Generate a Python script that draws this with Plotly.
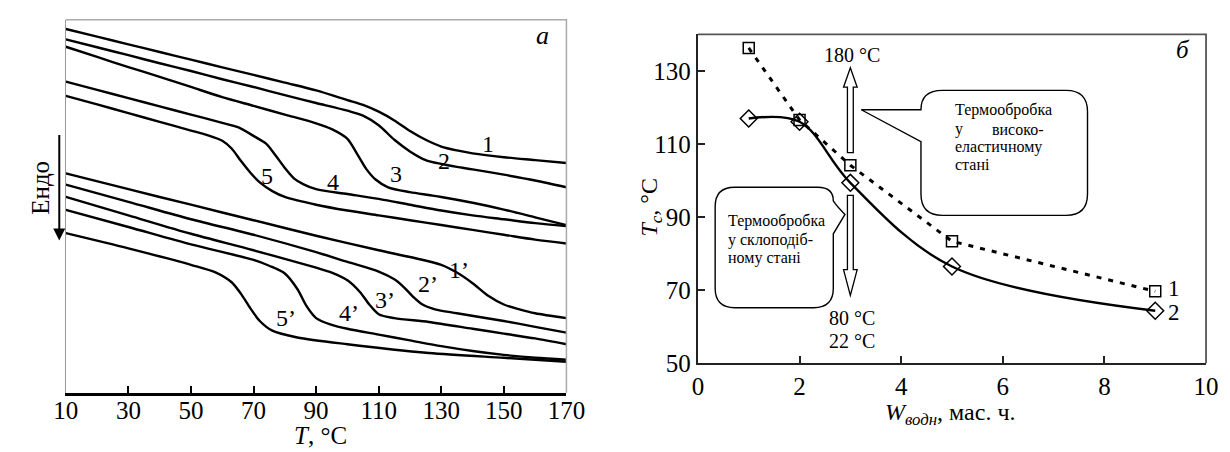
import plotly.graph_objects as go

W, H = 1230, 452
FONT = "Liberation Serif, Times New Roman, serif"

# ---------------- Panel а : DSC curves (T, °C ; signal, arb. units, endo down) -------------
T_1 = [10, 20, 30, 40, 50, 60, 70, 80, 90, 100, 105, 110, 115, 120, 125, 130, 135, 140, 150, 160, 170]
S_1 = [21.7, 29.6, 37.5, 45.4, 53.3, 61.2, 69.1, 77, 85, 95, 100, 107, 116, 127, 136, 143, 147, 150, 154, 157, 160]

T_2 = [10, 20, 30, 40, 50, 60, 70, 80, 90, 100, 105, 110, 115, 120, 125, 130, 135, 140, 150, 160, 170]
S_2 = [32.3, 40.5, 48.7, 57, 65, 73.5, 81.5, 90, 98, 106, 111, 121, 136, 148, 157, 161, 164, 166.5, 172, 178, 185]

T_3 = [10, 20, 30, 40, 50, 60, 70, 80, 90, 95, 100, 103, 106, 109, 113, 120, 126, 130, 140, 150, 160, 170]
S_3 = [40, 50.5, 61, 71, 81.5, 92, 101, 110, 119, 125, 135, 150, 166, 177, 185, 190, 193, 195, 201, 208, 216, 224]

T_4 = [10, 20, 30, 40, 50, 60, 65, 70, 74, 77, 80, 83, 86, 90, 100, 110, 120, 130, 140, 150, 160, 170]
S_4 = [76, 84.5, 93, 101.5, 110, 118.5, 123, 132, 140, 152, 165, 176, 182, 187, 192, 197, 203, 209, 214, 218, 222, 225]

T_5 = [10, 20, 30, 40, 50, 55, 60, 63, 66, 69, 72, 76, 80, 90, 100, 110, 120, 130, 140, 150, 160, 170]
S_5 = [90.7, 99.5, 108.5, 117.5, 126.5, 131, 137, 145, 158, 170, 180, 189, 195, 203, 209, 214, 219, 224, 229, 234, 239, 243]

T_1p = [10, 30, 50, 70, 90, 110, 120, 130, 135, 140, 145, 150, 155, 160, 170]
S_1p = [170.7, 187, 203, 219, 235, 250, 257, 265, 273, 284, 297, 306, 311, 315, 320]

T_2p = [10, 30, 50, 70, 90, 100, 110, 115, 118, 121, 124, 128, 135, 150, 160, 170]
S_2p = [182.3, 200, 218, 234, 252, 262, 272, 280, 288, 298, 306, 311, 315, 323, 329, 335]

T_3p = [10, 30, 50, 70, 90, 95, 100, 104, 107, 110, 115, 126, 140, 150, 160, 170]
S_3p = [195, 214, 233, 250, 268, 273, 281, 293, 306, 316, 320, 324, 331, 336, 341, 347]

T_4p = [10, 30, 50, 70, 75, 80, 84, 87, 90, 95, 100, 110, 120, 130, 140, 150, 160, 170]
S_4p = [208.3, 226, 244, 260, 266, 274, 290, 308, 320, 327, 331, 337, 343, 349, 354, 358, 361, 363]

T_5p = [10, 30, 50, 58, 63, 66, 69, 72, 76, 84, 100, 126, 150, 170]
S_5p = [232.3, 248, 265, 273, 283, 295, 310, 323, 333, 340, 347, 356, 361, 365]

curves_a = [(T_1, S_1), (T_2, S_2), (T_3, S_3), (T_4, S_4), (T_5, S_5),
            (T_1p, S_1p), (T_2p, S_2p), (T_3p, S_3p), (T_4p, S_4p), (T_5p, S_5p)]

labels_a = ["1", "2", "3", "4", "5", "1’", "2’", "3’", "4’", "5’"]
labels_a_T = [145.0, 131.0, 115.5, 95.3, 74.2, 135.7, 125.9, 111.9, 100.5, 80.3]
labels_a_S = [140, 158, 171.7, 180, 173.3, 270, 285, 301.7, 315, 320]

T_ticks = [10, 30, 50, 70, 90, 110, 130, 150, 170]

# ---------------- Panel б : Tg vs water content ----------------
W_water = [1, 2, 3, 5, 9]
Tg_elastic = [136.3, 116.6, 104.2, 83.4, 69.7]   # curve 1
Tg_glassy = [117.0, 116.1, 99.4, 76.5, 64.4]     # curve 2
W_ticks = [0, 2, 4, 6, 8, 10]
Tg_ticks = [50, 70, 90, 110, 130]


def px(x):
    return x / W


def py(y):
    return 1 - y / H


def P(x, y):
    return f"{px(x):.5f},{py(y):.5f}"


fig = go.Figure()

for T, S in curves_a:
    fig.add_trace(go.Scatter(x=T, y=S, mode="lines", xaxis="x", yaxis="y",
                             line=dict(color="black", width=2.4, shape="spline", smoothing=0.8),
                             showlegend=False, hoverinfo="skip"))

fig.add_trace(go.Scatter(x=W_water, y=Tg_glassy, mode="lines+markers", xaxis="x2", yaxis="y2",
                         line=dict(color="black", width=2.4, shape="spline", smoothing=1.0),
                         marker=dict(symbol="diamond-open", size=13, color="black", line=dict(width=1.5)),
                         showlegend=False))
fig.add_trace(go.Scatter(x=W_water, y=Tg_elastic, mode="lines+markers", xaxis="x2", yaxis="y2",
                         line=dict(color="black", width=3, dash="5px,7px"),
                         marker=dict(symbol="square-open", size=11, color="black", line=dict(width=1.5)),
                         showlegend=False))

# domains in pixels
A_L, A_R, A_T, A_B = 46, 560, 12, 397
B_L, B_R, B_T, B_B = 695, 1216.7, 27.3, 366.7

axfont = dict(family=FONT, size=25, color="black")

fig.update_layout(
    width=W, height=H, margin=dict(l=0, r=0, t=0, b=0),
    paper_bgcolor="white", plot_bgcolor="white",
    xaxis=dict(domain=[px(A_L), px(A_R)], anchor="y", range=[10, 170], tickvals=T_ticks,
               ticks="inside", ticklen=7, tickwidth=2, tickcolor="black",
               showline=True, linecolor="black", linewidth=2.5, showgrid=False, zeroline=False,
               tickfont=axfont, ticklabelstandoff=-6),
    yaxis=dict(domain=[py(A_B), py(A_T)], anchor="x", range=[397, 12],
               showline=True, linecolor="#999", linewidth=1.2, showticklabels=False, ticks="",
               showgrid=False, zeroline=False),
    xaxis2=dict(domain=[px(B_L), px(B_R)], anchor="y2", range=[0, 10], tickvals=W_ticks,
                ticks="inside", ticklen=7, tickwidth=2, tickcolor="#222",
                showline=True, linecolor="#222", linewidth=2.2, showgrid=False, zeroline=False,
                tickfont=axfont),
    yaxis2=dict(domain=[py(B_B), py(B_T)], anchor="x2", range=[50, 140], tickvals=Tg_ticks,
                ticks="inside", ticklen=7, tickwidth=2, tickcolor="#222",
                showline=True, linecolor="#222", linewidth=2.2, showgrid=False, zeroline=False,
                tickfont=axfont),
)

shapes = []
# frames
shapes.append(dict(type="path", xref="paper", yref="paper",
                   path=f"M{P(A_L, A_T)} L{P(A_R, A_T)} L{P(A_R, A_B)}",
                   line=dict(color="#aaa", width=1.5)))
shapes.append(dict(type="path", xref="paper", yref="paper",
                   path=f"M{P(B_L, B_T)} L{P(B_R, B_T)} L{P(B_R, B_B)}",
                   line=dict(color="#555", width=1.8)))

# hollow arrows at W = 3
cx = 851.5
sw, hw = 3, 7
up = (f"M{P(cx - sw, 149.3)} L{P(cx - sw, 81.7)} L{P(cx - hw, 81.7)} L{P(cx, 61.7)} "
      f"L{P(cx + hw, 81.7)} L{P(cx + sw, 81.7)} L{P(cx + sw, 149.3)} Z")
down = (f"M{P(cx - sw, 193.3)} L{P(cx - sw, 270)} L{P(cx - hw, 270)} L{P(cx, 296.7)} "
        f"L{P(cx + hw, 270)} L{P(cx + sw, 270)} L{P(cx + sw, 193.3)} Z")
for pth in (up, down):
    shapes.append(dict(type="path", xref="paper", yref="paper", path=pth,
                       line=dict(color="black", width=1.3), fillcolor="white"))

# callout (right)
r = 22
L, R, T, B = 924, 1095, 85, 214
right_box = (f"M{P(862.7, 105)} L{P(L, 105)} Q{P(L, T)} {P(L + r, T)} L{P(R - r, T)} "
             f"Q{P(R, T)} {P(R, T + r)} L{P(R, B - r)} Q{P(R, B)} {P(R - r, B)} "
             f"L{P(L + r, B)} Q{P(L, B)} {P(L, B - r)} L{P(L, 138)} Z")
shapes.append(dict(type="path", xref="paper", yref="paper", path=right_box,
                   line=dict(color="black", width=1.4), fillcolor="white"))
# callout (left)
L, R, T, B = 712.7, 834, 185, 309.3
r = 20
left_box = (f"M{P(L + r, T)} L{P(R - 16, T)} Q{P(R, T)} {P(R, T + 14)} "
            f"Q{P(R + 4, 205)} {P(846, 213)} L{P(R, 233)} L{P(R, B - r)} "
            f"Q{P(R, B)} {P(R - r, B)} L{P(L + r, B)} Q{P(L, B)} {P(L, B - r)} "
            f"L{P(L, T + r)} Q{P(L, T)} {P(L + r, T)} Z")
shapes.append(dict(type="path", xref="paper", yref="paper", path=left_box,
                   line=dict(color="black", width=1.4), fillcolor="white"))

fig.update_layout(shapes=shapes)

ann = []


def txt(x, y, s, size, xanchor="center", angle=0):
    ann.append(dict(x=px(x), y=py(y), xref="paper", yref="paper", text=s, showarrow=False,
                    xanchor=xanchor, yanchor="middle", textangle=angle,
                    font=dict(family=FONT, size=size, color="black")))


# panel a labels
for lab, tx, sy in zip(labels_a, labels_a_T, labels_a_S):
    ann.append(dict(x=tx, y=sy, xref="x", yref="y", text=lab, showarrow=False,
                    xanchor="center", yanchor="middle", font=dict(family=FONT, size=24, color="black")))
txt(535, 28.3, "<i>a</i>", 26)
txt(308, 441, "<i>T</i>, °C", 25)
txt(20, 185, "Ендо", 25, angle=-90)
ann.append(dict(x=px(39.3), y=py(240), xref="paper", yref="paper", ax=0, ay=-107, text="",
                showarrow=True, arrowhead=2, arrowsize=1.2, arrowwidth=2, arrowcolor="black"))

# panel b labels
ann.append(dict(x=9.37, y=70.6, xref="x2", yref="y2", text="1", showarrow=False, xanchor="center",
                font=dict(family=FONT, size=23, color="black")))
ann.append(dict(x=9.37, y=63.9, xref="x2", yref="y2", text="2", showarrow=False, xanchor="center",
                font=dict(family=FONT, size=23, color="black")))
txt(1193, 43.3, "<i>б</i>", 25)
txt(954, 419, "<i>W</i><sub><i>водн</i></sub>, мас. ч.", 24)
txt(646.7, 206, "<i>T</i><sub><i>с</i></sub>, °C", 24, angle=-90)
txt(853, 48.3, "180 °C", 20)
txt(853, 320, "80 °C", 20)
txt(853, 343.3, "22 °C", 20)

for yy, line in zip([105, 143.3, 161.7], ["Термообробка", "еластичному", "стані"]):
    txt(956.7, yy, line, 16, xanchor="left")
txt(956.7, 125, "у", 16, xanchor="left")
txt(1052.7, 125, "високо-", 16, xanchor="right")

for yy, line in zip([220, 239, 258.3], ["Термообробка", "у склоподіб-", "ному стані"]):
    txt(724.3, yy, line, 16, xanchor="left")

fig.update_layout(annotations=ann)

fig.write_html("out.html", config={"displayModeBar": False})
